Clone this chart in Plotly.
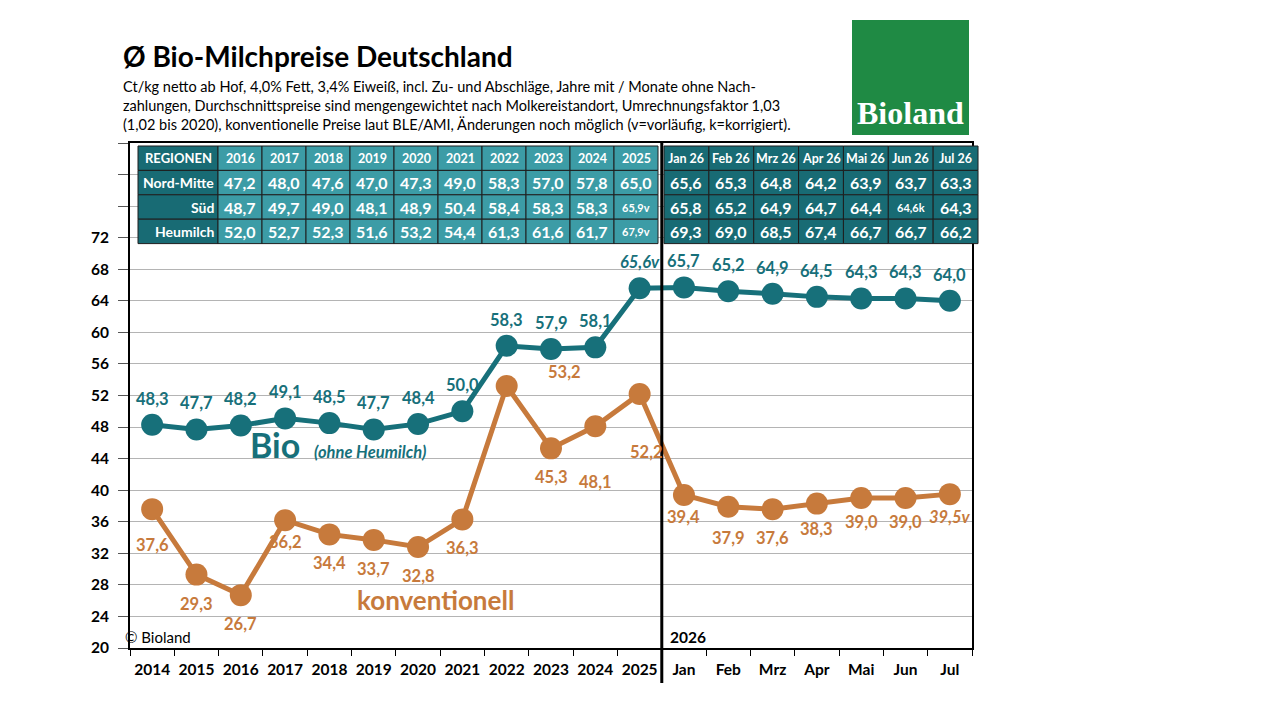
import plotly.graph_objects as go

# Data
years = ["2014", "2015", "2016", "2017", "2018", "2019", "2020", "2021", "2022", "2023", "2024", "2025"]
months = ["Jan", "Feb", "Mrz", "Apr", "Mai", "Jun", "Jul"]
bio = [48.3, 47.7, 48.2, 49.1, 48.5, 47.7, 48.4, 50.0, 58.3, 57.9, 58.1, 65.6,
       65.7, 65.2, 64.9, 64.5, 64.3, 64.3, 64.0]
bio_flags = [""] * 11 + ["v"] + [""] * 7
konv = [37.6, 29.3, 26.7, 36.2, 34.4, 33.7, 32.8, 36.3, 53.2, 45.3, 48.1, 52.2,
        39.4, 37.9, 37.6, 38.3, 39.0, 39.0, 39.5]
konv_flags = [""] * 18 + ["v"]

regions = ["Nord-Mitte", "Süd", "Heumilch"]
table_years = ["2016", "2017", "2018", "2019", "2020", "2021", "2022", "2023", "2024", "2025"]
nord_mitte_y = ["47,2", "48,0", "47,6", "47,0", "47,3", "49,0", "58,3", "57,0", "57,8", "65,0"]
sued_y = ["48,7", "49,7", "49,0", "48,1", "48,9", "50,4", "58,4", "58,3", "58,3", "65,9v"]
heumilch_y = ["52,0", "52,7", "52,3", "51,6", "53,2", "54,4", "61,3", "61,6", "61,7", "67,9v"]
table_months = ["Jan 26", "Feb 26", "Mrz 26", "Apr 26", "Mai 26", "Jun 26", "Jul 26"]
nord_mitte_m = ["65,6", "65,3", "64,8", "64,2", "63,9", "63,7", "63,3"]
sued_m = ["65,8", "65,2", "64,9", "64,7", "64,4", "64,6k", "64,3"]
heumilch_m = ["69,3", "69,0", "68,5", "67,4", "66,7", "66,7", "66,2"]

TEAL = "#17707a"
ORANGE = "#c77a3c"
DARK_CELL = "#186b74"
LIGHT_CELL = "#3c9ca6"
FONT = "Lato"

# the page has an 8px body margin; positions below are in page pixels
OFF = 8
W, H = 1280 - 2 * OFF, 720 - 2 * OFF
PL, PR, PT, PB = 100, 1000, 100, 690


def fx(px):
    return (px - PL) / (PR - PL)


def fy(py):
    return (PB - py) / (PB - PT)


def fmt(v, flag):
    s = f"{v:.1f}".replace(".", ",") + flag
    return f"<b><i>{s}</i></b>" if flag else f"<b>{s}</b>"


xcats = years + months

fig = go.Figure()

for vals, color in [(bio, TEAL), (konv, ORANGE)]:
    fig.add_trace(go.Scatter(
        x=xcats, y=vals, mode="lines+markers",
        line=dict(color=color, width=5),
        marker=dict(color=color, size=22),
        cliponaxis=False, hoverinfo="skip", showlegend=False,
    ))

# value labels (x given as category index)
for i, (v, f) in enumerate(zip(bio, bio_flags)):
    fig.add_annotation(x=i, y=v, text=fmt(v, f), showarrow=False, yshift=26,
                       xanchor="center", yanchor="middle",
                       font=dict(family=FONT, size=16.5, color=TEAL))

konv_shift = {0: (0, -36), 3: (0, -22), 8: (58, 14), 10: (0, -56), 11: (7, -58),
              12: (0, -22), 13: (0, -31), 14: (0, -29), 15: (0, -25),
              16: (0, -24), 17: (0, -24), 18: (0, -23)}
for i, (v, f) in enumerate(zip(konv, konv_flags)):
    dx, dy = konv_shift.get(i, (0, -29))
    fig.add_annotation(x=i, y=v, text=fmt(v, f), showarrow=False, xshift=dx, yshift=dy,
                       xanchor="center", yanchor="middle",
                       font=dict(family=FONT, size=16.5, color=ORANGE))

# regional table (cells as shapes + texts)
ROW_TOP, ROW_H = 146, 24.4
yr_edges = [138, 218] + [218 + 44 * (i + 1) for i in range(len(table_years))]
mo_edges = [664 + 44.86 * j for j in range(len(table_months) + 1)]

columns = [("<b>REGIONEN</b>", regions, DARK_CELL, "region")]
for y, a, b, c in zip(table_years, nord_mitte_y, sued_y, heumilch_y):
    columns.append((f"<b>{y}</b>", [a, b, c], LIGHT_CELL, "value"))
for m, a, b, c in zip(table_months, nord_mitte_m, sued_m, heumilch_m):
    columns.append((f"<b>{m}</b>", [a, b, c], DARK_CELL, "value"))
edges = list(zip(yr_edges[:-1], yr_edges[1:])) + list(zip(mo_edges[:-1], mo_edges[1:]))

for (head, body, fill, kind), (x0, x1) in zip(columns, edges):
    rows = [head] + body
    for r, txt in enumerate(rows):
        y0 = ROW_TOP + r * ROW_H
        y1 = y0 + ROW_H
        fig.add_shape(type="rect", xref="paper", yref="paper",
                      x0=fx(x0), x1=fx(x1), y0=fy(y1), y1=fy(y0),
                      fillcolor=fill, line=dict(color="#1e1e1e", width=1), layer="above")
        if r == 0:
            size, anchor, xpos = (13 if kind == "region" else 12.5), "center", (x0 + x1) / 2
        elif kind == "region":
            size, anchor, xpos = 14, "right", x1 - 2
            txt = f"<b>{txt}</b>"
        else:
            size = 11 if txt[-1] in "vk" else 16
            anchor, xpos = "center", (x0 + x1) / 2
            txt = f"<b>{txt}</b>"
        fig.add_annotation(xref="paper", yref="paper", x=fx(xpos), y=fy((y0 + y1) / 2),
                           xanchor=anchor, yanchor="middle", showarrow=False, text=txt,
                           font=dict(family=FONT, size=size, color="white"))

yticks = list(range(20, 85, 4))
fig.update_layout(
    width=W, height=H,
    margin=dict(l=PL - OFF, r=W + OFF - PR, t=PT - OFF, b=H + OFF - PB),
    paper_bgcolor="white", plot_bgcolor="white",
    font=dict(family=FONT, color="black"),
    xaxis=dict(
        type="category", domain=[fx(130), fx(972)], range=[-0.5, 18.5],
        showline=True, linecolor="black", linewidth=2, mirror=True,
        ticks="outside", tickson="boundaries", ticklen=6, tickcolor="black", tickwidth=1,
        ticklabelstandoff=6, tickangle=0,
        tickfont=dict(family=FONT, size=15.5, color="black", weight="bold"),
        showgrid=False,
    ),
    yaxis=dict(
        domain=[fy(648), fy(143)], range=[20, 84],
        tickvals=yticks, ticktext=[str(t) if t <= 72 else "" for t in yticks],
        showline=True, linecolor="black", linewidth=2, mirror=True,
        ticks="outside", ticklen=10, tickcolor="#555555", tickwidth=1,
        ticklabelstandoff=6,
        tickfont=dict(family=FONT, size=15.5, color="black", weight="bold"),
        showgrid=True, gridcolor="#b4b4b4", gridwidth=1, zeroline=False,
    ),
)

# separator between years and months
fig.add_shape(type="line", xref="x", yref="paper", x0=11.5, x1=11.5,
              y0=fy(683), y1=fy(142), line=dict(color="black", width=3), layer="above")

# Bioland logo
fig.add_shape(type="rect", xref="paper", yref="paper",
              x0=fx(852), x1=fx(969), y0=fy(135), y1=fy(20),
              fillcolor="#1f8a44", line=dict(width=0), layer="below")
fig.add_annotation(xref="paper", yref="paper", x=fx(910), y=fy(113),
                   xanchor="center", yanchor="middle", showarrow=False,
                   text="<b>Bioland</b>",
                   font=dict(family="Liberation Serif", size=32, color="white"))

# Titles
fig.add_annotation(xref="paper", yref="paper", x=fx(121), y=fy(56),
                   xanchor="left", yanchor="middle",
                   showarrow=False, text="<b>Ø Bio-Milchpreise Deutschland</b>",
                   font=dict(family=FONT, size=28, color="black"))
fig.add_annotation(
    xref="paper", yref="paper", x=fx(121), y=fy(106), xanchor="left", yanchor="middle",
    align="left", showarrow=False,
    text=("Ct/kg netto ab Hof, 4,0% Fett, 3,4% Eiweiß, incl. Zu- und Abschläge, Jahre mit / Monate ohne Nach-<br>"
          "zahlungen, Durchschnittspreise sind mengengewichtet nach Molkereistandort, Umrechnungsfaktor 1,03<br>"
          "(1,02 bis 2020), konventionelle Preise laut BLE/AMI, Änderungen noch möglich (v=vorläufig, k=korrigiert)."),
    font=dict(family=FONT, size=14.5, color="black"),
)

# in-chart labels
fig.add_annotation(xref="paper", yref="paper", x=fx(275), y=fy(444),
                   xanchor="center", yanchor="middle", showarrow=False,
                   text="<b>Bio</b>", font=dict(family=FONT, size=34, color=TEAL))
fig.add_annotation(xref="paper", yref="paper", x=fx(370), y=fy(452),
                   xanchor="center", yanchor="middle", showarrow=False,
                   text="<b><i>(ohne Heumilch)</i></b>", font=dict(family=FONT, size=16.5, color=TEAL))
fig.add_annotation(xref="paper", yref="paper", x=fx(435), y=fy(600),
                   xanchor="center", yanchor="middle", showarrow=False,
                   text="<b>konventionell</b>", font=dict(family=FONT, size=26, color=ORANGE))
fig.add_annotation(xref="paper", yref="paper", x=fx(123), y=fy(637),
                   xanchor="left", yanchor="middle", showarrow=False,
                   text="© Bioland", font=dict(family=FONT, size=15, color="black"))
fig.add_annotation(xref="paper", yref="paper", x=fx(668), y=fy(637),
                   xanchor="left", yanchor="middle", showarrow=False,
                   text="<b>2026</b>", font=dict(family=FONT, size=15.5, color="black"))

fig.write_html("out.html")
